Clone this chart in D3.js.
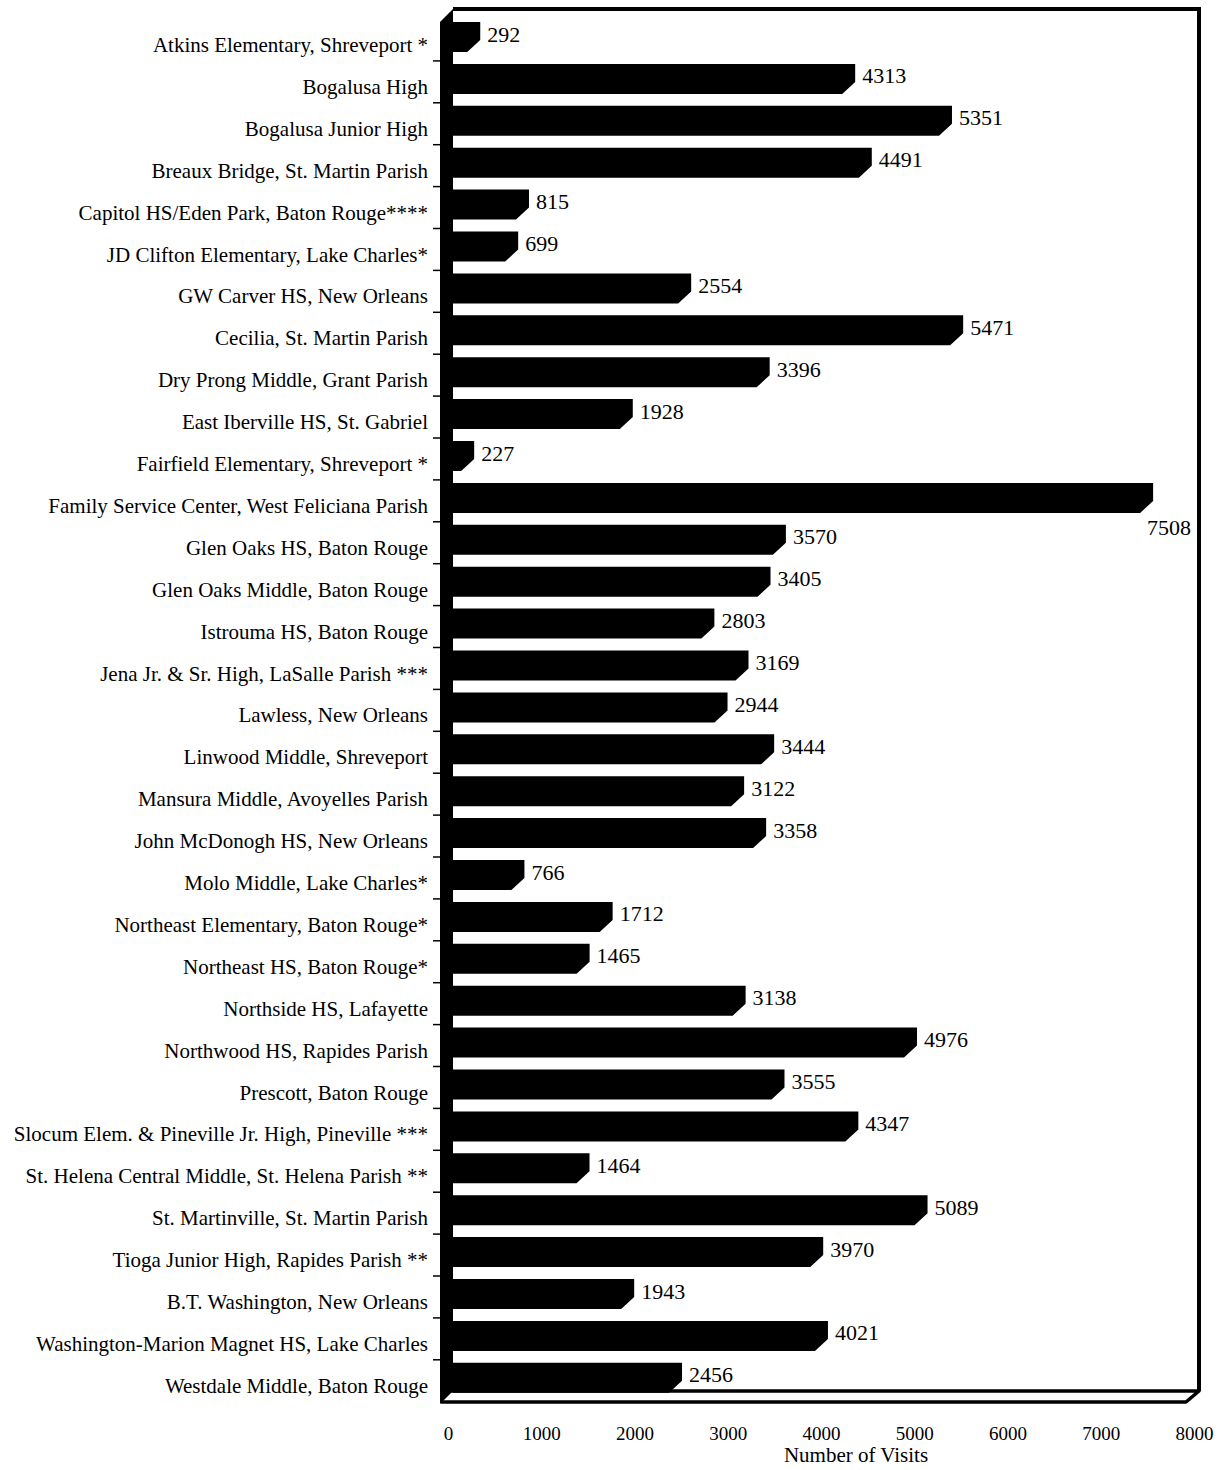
<!DOCTYPE html>
<html><head><meta charset="utf-8">
<script src="https://cdn.jsdelivr.net/npm/d3@7"></script>
<style>
body{margin:0;background:#fff}
svg{display:block}
text{font-family:"Liberation Serif","Times New Roman",serif;fill:#000}
</style>
</head><body>
<svg id="c" width="1222" height="1470"></svg>
<script>
const categories = [
  "Atkins Elementary, Shreveport *",
  "Bogalusa High",
  "Bogalusa Junior High",
  "Breaux Bridge, St. Martin Parish",
  "Capitol HS/Eden Park, Baton Rouge****",
  "JD Clifton Elementary, Lake Charles*",
  "GW Carver HS, New Orleans",
  "Cecilia, St. Martin Parish",
  "Dry Prong Middle, Grant Parish",
  "East Iberville HS, St. Gabriel",
  "Fairfield Elementary, Shreveport *",
  "Family Service Center, West Feliciana Parish",
  "Glen Oaks HS, Baton Rouge",
  "Glen Oaks Middle, Baton Rouge",
  "Istrouma HS, Baton Rouge",
  "Jena Jr. & Sr. High, LaSalle Parish ***",
  "Lawless, New Orleans",
  "Linwood Middle, Shreveport",
  "Mansura Middle, Avoyelles Parish",
  "John McDonogh HS, New Orleans",
  "Molo Middle, Lake Charles*",
  "Northeast Elementary, Baton Rouge*",
  "Northeast HS, Baton Rouge*",
  "Northside HS, Lafayette",
  "Northwood HS, Rapides Parish",
  "Prescott, Baton Rouge",
  "Slocum Elem. & Pineville Jr. High, Pineville ***",
  "St. Helena Central Middle, St. Helena Parish **",
  "St. Martinville, St. Martin Parish",
  "Tioga Junior High, Rapides Parish **",
  "B.T. Washington, New Orleans",
  "Washington-Marion Magnet HS, Lake Charles",
  "Westdale Middle, Baton Rouge"
];
const visits = [292, 4313, 5351, 4491, 815, 699, 2554, 5471, 3396, 1928, 227, 7508,
  3570, 3405, 2803, 3169, 2944, 3444, 3122, 3358, 766, 1712, 1465, 3138, 4976,
  3555, 4347, 1464, 5089, 3970, 1943, 4021, 2456];
const xTicks = [0, 1000, 2000, 3000, 4000, 5000, 6000, 7000, 8000];
const xTickLabels = ["0", "1000", "2000", "3000", "4000", "5000", "6000", "7000", "8000"];
const axisTitle = "Number of Visits";

const svg = d3.select("#c");
const depthX = 13, depthY = 12, faceH = 18;
const x = d3.scaleLinear().domain([0, 8000]).range([440, 1186]);
const y = d3.scaleBand().domain(categories).range([15, 1397.7]).padding(0);
const x0 = x(0);
const backTop = 9, floorBack = 1391, floorFront = 1402;
const backRight = x(8000) + depthX;

// floor edges
svg.append("path")
  .attr("d", `M${x0 + depthX},${floorBack} L${backRight},${floorBack} L${x(8000)},${floorFront} L${x0 + 1},${floorFront}`)
  .attr("fill", "none").attr("stroke", "#000").attr("stroke-width", 3.5)
  .attr("stroke-linejoin", "round").attr("stroke-linecap", "butt");

// back frame (top and right)
svg.append("path")
  .attr("d", `M${x0 + depthX},${backTop} L${backRight},${backTop} L${backRight},${floorBack}`)
  .attr("fill", "none").attr("stroke", "#000").attr("stroke-width", 4);

// left wall
svg.append("path")
  .attr("d", `M${x0},${backTop + depthY + 1} L${x0 + depthX},${backTop} L${x0 + depthX},${floorBack} L${x0},${floorFront + 2} Z`)
  .attr("fill", "#000");

// small ticks on the wall
svg.append("g").selectAll("line").data(categories.slice(1)).join("line")
  .attr("x1", x0 - 7).attr("x2", x0)
  .attr("y1", d => y(d) + 4).attr("y2", d => y(d) + 4)
  .attr("stroke", "#000").attr("stroke-width", 1.5);

// bars
const rows = categories.map((c, i) => ({c, v: visits[i]}));
svg.append("g").selectAll("path").data(rows).join("path")
  .attr("d", d => {
    const t = y(d.c) + 7, xf = x(d.v);
    return `M${x0},${t + depthY} L${x0 + depthX},${t} L${xf + depthX},${t} L${xf + depthX},${t + faceH} L${xf},${t + faceH + depthY} L${x0},${t + faceH + depthY} Z`;
  })
  .attr("fill", "#000");

// value labels
const vl = svg.append("g").selectAll("text").data(rows).join("text")
  .attr("x", d => x(d.v) + depthX + 7)
  .attr("y", d => y(d.c) + 7 + 12)
  .attr("dominant-baseline", "central")
  .attr("font-size", 22)
  .text(d => d.v);
vl.each(function(d) {
  const w = this.getComputedTextLength();
  if (x(d.v) + depthX + 7 + w > backRight - 4) {
    d3.select(this).attr("text-anchor", "end").attr("x", backRight - 8).attr("y", y(d.c) + 7 + 45);
  }
});

// category labels
svg.append("g").selectAll("text").data(rows).join("text")
  .attr("x", 428)
  .attr("y", d => y(d.c) + 7 + 23)
  .attr("text-anchor", "end")
  .attr("dominant-baseline", "central")
  .attr("font-size", 21)
  .text(d => d.c);

// x axis (labels only)
const ax = svg.append("g").attr("transform", "translate(8,1423)")
  .call(d3.axisBottom(x).tickValues(xTicks).tickFormat((d, i) => xTickLabels[i]).tickSize(0));
ax.selectAll("path,line").remove();
ax.attr("font-family", null);
ax.selectAll("text").attr("font-size", 19).attr("fill", "#000");

svg.append("text")
  .attr("x", 856).attr("y", 1455)
  .attr("text-anchor", "middle").attr("dominant-baseline", "central")
  .attr("font-size", 21)
  .text(axisTitle);
</script>
</body></html>
